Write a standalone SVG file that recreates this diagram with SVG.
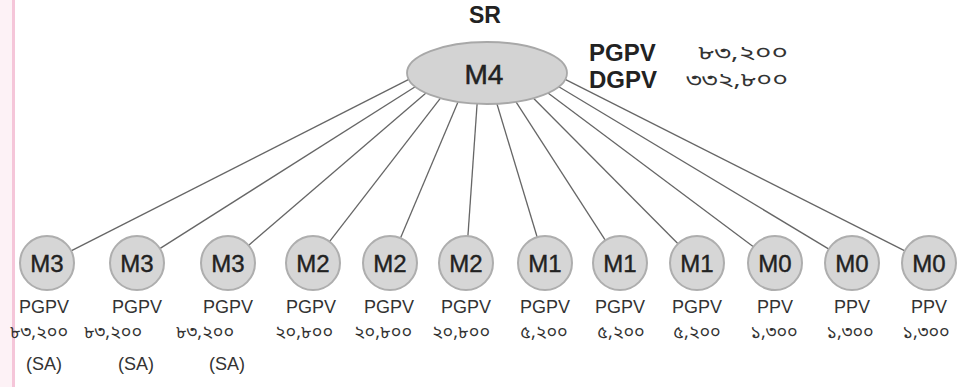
<svg xmlns="http://www.w3.org/2000/svg" width="959" height="387" viewBox="0 0 959 387">
<style>
.edge{stroke:#666;stroke-width:1.3;fill:none}
.big{fill:#d3d3d3;stroke:#a8a8a8;stroke-width:1.8}
.sm{fill:#d6d6d6;stroke:#aeaeae;stroke-width:2}
.t{font-family:"Liberation Sans",Arial,sans-serif;fill:#222;text-anchor:middle}
.head{font-size:23px;font-weight:bold}
.m4{font-size:28px;stroke:#222;stroke-width:0.5}
.ml{font-size:24px;stroke:#222;stroke-width:0.4}
.lab{font-size:18px;fill:#333}
.num{font-family:"Noto Sans Bengali","Lohit Bengali","Noto Sans","Liberation Sans",sans-serif;font-size:18px;fill:#333;text-anchor:middle}
.info{font-family:"Liberation Sans",Arial,sans-serif;font-size:24px;font-weight:bold;fill:#222}
.infonum{font-family:"Noto Sans Bengali","Lohit Bengali","Noto Sans","Liberation Sans",sans-serif;font-size:19px;fill:#333;text-anchor:end}
</style>
<rect x="0" y="0" width="959" height="387" fill="#ffffff"/>
<rect x="0" y="0" width="12" height="387" fill="#fdf2f6"/>
<rect x="12" y="0" width="3" height="387" fill="#f5c6d9"/>
<g id="connectors">
<line class="edge" x1="408.8" y1="79.4" x2="71.1" y2="250.8"/>
<line class="edge" x1="415.2" y1="86.7" x2="159.8" y2="248.6"/>
<line class="edge" x1="426" y1="93.1" x2="248.5" y2="245.4"/>
<line class="edge" x1="440.5" y1="98.2" x2="329.5" y2="241.6"/>
<line class="edge" x1="458" y1="101.9" x2="400.5" y2="238.1"/>
<line class="edge" x1="477.1" y1="103.8" x2="467.9" y2="236.1"/>
<line class="edge" x1="496.9" y1="103.8" x2="537.2" y2="237.2"/>
<line class="edge" x1="516" y1="101.9" x2="605.4" y2="240.3"/>
<line class="edge" x1="533.5" y1="98.2" x2="678" y2="243.8"/>
<line class="edge" x1="548" y1="93.1" x2="753.4" y2="246.8"/>
<line class="edge" x1="558.8" y1="86.7" x2="828.9" y2="249.1"/>
<line class="edge" x1="565.2" y1="79.4" x2="904.9" y2="250.8"/>
</g>
<g id="sr">
<text class="t head" x="485" y="23">SR</text>
<ellipse class="big" cx="487" cy="73" rx="80" ry="31"/>
<text class="t m4" x="484" y="84">M4</text>
<text class="info" x="589" y="61">PGPV</text>
<text class="info" x="589" y="88">DGPV</text>
<text class="infonum" x="788" y="59" textLength="90" lengthAdjust="spacingAndGlyphs">৮৩,২০০</text>
<text class="infonum" x="788" y="86" textLength="102" lengthAdjust="spacingAndGlyphs">৩৩২,৮০০</text>
</g>
<g id="n1"><ellipse class="sm" cx="47" cy="263" rx="27" ry="27"/><text class="t ml" x="47" y="272">M3</text><text class="t lab" x="44" y="313">PGPV</text><text class="num" x="39" y="338">৮৩,২০০</text><text class="t lab" x="44" y="370">(SA)</text></g>
<g id="n2"><ellipse class="sm" cx="137" cy="263" rx="27" ry="27"/><text class="t ml" x="137" y="272">M3</text><text class="t lab" x="137" y="313">PGPV</text><text class="num" x="113" y="338">৮৩,২০০</text><text class="t lab" x="136" y="370">(SA)</text></g>
<g id="n3"><ellipse class="sm" cx="228" cy="263" rx="27" ry="27"/><text class="t ml" x="228" y="272">M3</text><text class="t lab" x="228" y="313">PGPV</text><text class="num" x="205" y="338">৮৩,২০০</text><text class="t lab" x="227" y="370">(SA)</text></g>
<g id="n4"><ellipse class="sm" cx="313" cy="263" rx="27" ry="27"/><text class="t ml" x="313" y="272">M2</text><text class="t lab" x="311" y="313">PGPV</text><text class="num" x="304" y="338">২০,৮০০</text></g>
<g id="n5"><ellipse class="sm" cx="390" cy="263" rx="27" ry="27"/><text class="t ml" x="390" y="272">M2</text><text class="t lab" x="389" y="313">PGPV</text><text class="num" x="383" y="338">২০,৮০০</text></g>
<g id="n6"><ellipse class="sm" cx="466" cy="263" rx="27" ry="27"/><text class="t ml" x="466" y="272">M2</text><text class="t lab" x="466" y="313">PGPV</text><text class="num" x="461" y="338">২০,৮০০</text></g>
<g id="n7"><ellipse class="sm" cx="545" cy="263" rx="27" ry="27"/><text class="t ml" x="545" y="272">M1</text><text class="t lab" x="545" y="313">PGPV</text><text class="num" x="544" y="338">৫,২০০</text></g>
<g id="n8"><ellipse class="sm" cx="620" cy="263" rx="27" ry="27"/><text class="t ml" x="620" y="272">M1</text><text class="t lab" x="620" y="313">PGPV</text><text class="num" x="621" y="338">৫,২০০</text></g>
<g id="n9"><ellipse class="sm" cx="697" cy="263" rx="27" ry="27"/><text class="t ml" x="697" y="272">M1</text><text class="t lab" x="697" y="313">PGPV</text><text class="num" x="697" y="338">৫,২০০</text></g>
<g id="n10"><ellipse class="sm" cx="775" cy="263" rx="27" ry="27"/><text class="t ml" x="775" y="272">M0</text><text class="t lab" x="775" y="313">PPV</text><text class="num" x="774" y="338">১,৩০০</text></g>
<g id="n11"><ellipse class="sm" cx="852" cy="263" rx="27" ry="27"/><text class="t ml" x="852" y="272">M0</text><text class="t lab" x="852" y="313">PPV</text><text class="num" x="850" y="338">১,৩০০</text></g>
<g id="n12"><ellipse class="sm" cx="929" cy="263" rx="27" ry="27"/><text class="t ml" x="929" y="272">M0</text><text class="t lab" x="929" y="313">PPV</text><text class="num" x="926" y="338">১,৩০০</text></g>
</svg>
